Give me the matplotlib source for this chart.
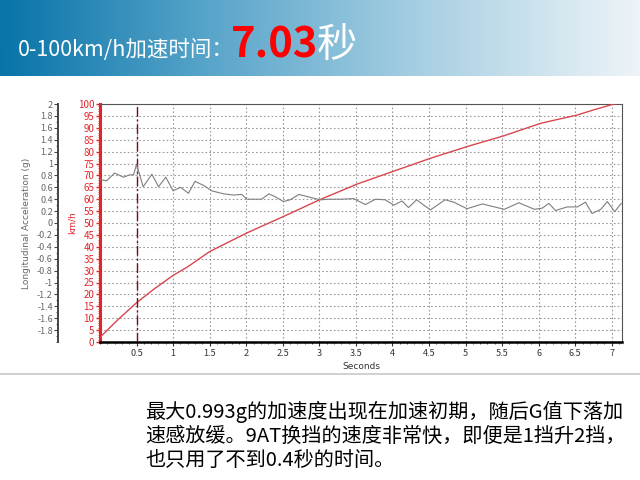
import numpy as np
import matplotlib
matplotlib.use('Agg')
from matplotlib import pyplot as plt
from matplotlib.ticker import MultipleLocator, FixedLocator
from matplotlib.colors import LinearSegmentedColormap

plt.rcParams['font.family'] = ['Noto Sans CJK SC', 'DejaVu Sans']

# speed trace (km/h vs seconds)
speed_t = [0.0, 0.25, 0.5, 0.75, 1.0, 1.2, 1.5, 2.0, 2.5, 3.0, 3.52,
           4.02, 4.52, 5.02, 5.52, 6.03, 6.53, 6.75, 7.03, 7.12]
speed_kmh = [2.0, 9.5, 16.5, 22.5, 28.0, 31.6, 38.0, 45.7, 52.6, 59.7, 66.4,
             71.8, 77.2, 82.1, 86.6, 91.9, 95.4, 97.5, 100.0, 100.5]

# longitudinal acceleration (g vs seconds)
acc_t = [0.0, 0.09, 0.2, 0.32, 0.41, 0.46, 0.5, 0.59, 0.71, 0.8, 0.9, 1.0,
         1.1, 1.21, 1.3, 1.42, 1.53, 1.69, 1.83, 1.94, 2.01, 2.1, 2.21, 2.31,
         2.4, 2.51, 2.6, 2.72, 2.88, 3.01, 3.15, 3.29, 3.47, 3.63, 3.77, 3.9,
         4.02, 4.13, 4.22, 4.33, 4.52, 4.72, 4.84, 5.02, 5.23, 5.53, 5.73,
         5.94, 6.05, 6.14, 6.23, 6.39, 6.53, 6.64, 6.73, 6.85, 6.94, 7.04,
         7.13]
acc_g = [0.73, 0.71, 0.84, 0.77, 0.81, 0.81, 0.99, 0.61, 0.82, 0.61, 0.77,
         0.54, 0.6, 0.5, 0.7, 0.63, 0.54, 0.49, 0.47, 0.48, 0.4, 0.4, 0.4,
         0.49, 0.44, 0.36, 0.39, 0.48, 0.43, 0.39, 0.4, 0.4, 0.41, 0.31,
         0.4, 0.39, 0.3, 0.37, 0.26, 0.39, 0.22, 0.39, 0.35, 0.24, 0.32,
         0.23, 0.34, 0.23, 0.25, 0.33, 0.21, 0.27, 0.27, 0.35, 0.16, 0.23,
         0.36, 0.19, 0.33]

x_ticks = [0.5, 1, 1.5, 2, 2.5, 3, 3.5, 4, 4.5, 5, 5.5, 6, 6.5, 7]
kmh_ticks = list(range(0, 101, 5))
g_ticks = [2, 1.8, 1.6, 1.4, 1.2, 1, 0.8, 0.6, 0.4, 0.2, 0, -0.2, -0.4,
           -0.6, -0.8, -1, -1.2, -1.4, -1.6, -1.8]

title_main = '0-100km/h加速时间：'
title_value = '7.03'
title_unit = '秒'
caption = ['最大0.993g的加速度出现在加速初期，随后G值下落加',
           '速感放缓。9AT换挡的速度非常快，即便是1挡升2挡，',
           '也只用了不到0.4秒的时间。']

RED = '#d8464e'
AXRED = '#e0262c'

fig = plt.figure(figsize=(6.4, 4.8), dpi=100)

# header band
hdr = fig.add_axes([0, 1 - 76 / 480, 1, 76 / 480])
cmap = LinearSegmentedColormap.from_list(
    'hdr', ['#0874a8', '#5aa6cb', '#a9d0e3', '#eef4f8'])
hdr.imshow(np.linspace(0, 1, 256)[None, :], aspect='auto', cmap=cmap,
           extent=[0, 1, 0, 1])
hdr.set_axis_off()
fig.text(18 / 640, 1 - 56 / 480, title_main, color='white', fontsize=15.5,
         va='baseline', ha='left')
fig.text(231 / 640, 1 - 57 / 480, title_value, color='#ff0000', fontsize=30,
         fontweight='bold', va='baseline', ha='left')
fig.text(317 / 640, 1 - 57 / 480, title_unit, color='white', fontsize=29,
         va='baseline', ha='left')

# main chart
ax = fig.add_axes([100 / 640, 1 - 342 / 480, 522 / 640, 238 / 480])
ax.set_xlim(0, 7.14)
ax.set_ylim(0, 100)
ax.grid(True, color='#9a9a9a', linestyle=(0, (1.5, 2)), linewidth=0.8)
ax.set_axisbelow(True)
ax.plot(speed_t, speed_kmh, color=RED, linewidth=1.0, zorder=3)
ax.axvline(0.5, color='#7a0c10', linestyle=(0, (7, 2, 1.5, 2)),
           linewidth=1.0, zorder=4)

ax.xaxis.set_major_locator(FixedLocator(x_ticks))
ax.xaxis.set_minor_locator(MultipleLocator(0.1))
ax.set_xticklabels(['%g' % t for t in x_ticks])
ax.yaxis.set_major_locator(FixedLocator(kmh_ticks))
ax.yaxis.set_minor_locator(MultipleLocator(1))
ax.tick_params(axis='x', labelsize=6.5, colors='#333333', length=3, pad=2)
ax.tick_params(axis='x', which='minor', length=1.5, colors='#333333')
ax.tick_params(axis='y', labelsize=7, colors=AXRED, labelcolor=AXRED,
               length=3, width=1, pad=1)
ax.tick_params(axis='y', which='minor', length=1.5, colors=AXRED)
ax.spines['left'].set_color(AXRED)
ax.spines['left'].set_linewidth(2.2)
ax.spines['bottom'].set_color('black')
ax.spines['bottom'].set_linewidth(1.8)
ax.spines['top'].set_color('#555555')
ax.spines['right'].set_color('#555555')
ax.set_ylabel('km/h', color=AXRED, fontsize=6.5, labelpad=1,
              family=['DejaVu Sans'])
ax.set_xlabel('Seconds', fontsize=6.5, color='#333333',
              family=['DejaVu Sans'])
ax.xaxis.set_label_coords(0.5, -0.085)

# acceleration axis on the far left
ax2 = ax.twinx()
ax2.set_ylim(-2, 2)
ax2.plot(acc_t, acc_g, color='#7f7f7f', linewidth=0.8, zorder=3)
ax2.yaxis.tick_left()
ax2.yaxis.set_label_position('left')
ax2.spines['left'].set_position(('outward', 30))
ax2.spines['left'].set_visible(True)
ax2.spines['left'].set_color('#444444')
ax2.spines['left'].set_linewidth(1.4)
for side in ('right', 'top', 'bottom'):
    ax2.spines[side].set_visible(False)
ax2.yaxis.set_major_locator(FixedLocator(g_ticks))
ax2.set_yticklabels(['%g' % v for v in g_ticks])
ax2.yaxis.set_minor_locator(MultipleLocator(0.1))
ax2.tick_params(axis='y', labelsize=6.5, colors='#444444',
                labelcolor='#666666', length=3, pad=1)
ax2.tick_params(axis='y', which='minor', length=1.5, colors='#444444')
ax2.set_ylabel('Longitudinal Acceleration (g)', fontsize=6.5,
               color='#666666', labelpad=4, family=['DejaVu Sans'])

# separator line under the chart
sep = fig.add_axes([0, 0, 1, 1], facecolor='none', zorder=-1)
sep.set_xlim(0, 640)
sep.set_ylim(480, 0)
sep.axhline(374, color='#c8c8c8', linewidth=1.2)
sep.set_axis_off()

for i, line in enumerate(caption):
    fig.text(145 / 640, 1 - (412 + 24.5 * i) / 480, line, fontsize=14.5,
             color='black', va='center', ha='left')

fig.savefig('out.png', dpi=100)
